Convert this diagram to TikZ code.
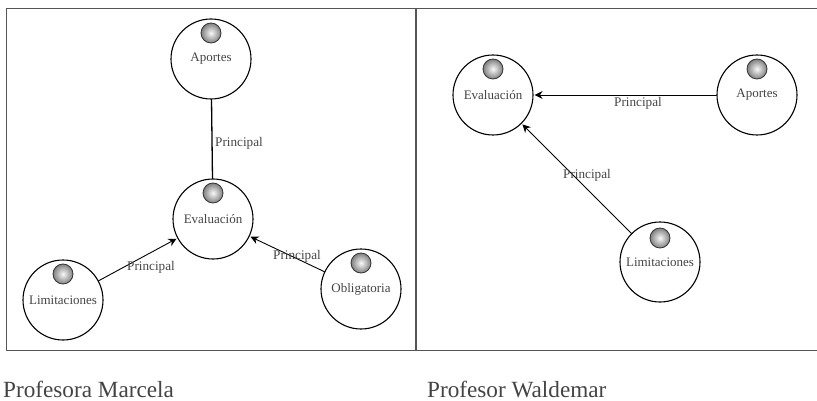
\documentclass[tikz,border=0pt]{standalone}
\usepackage{fontspec}
\setmainfont{Liberation Serif}
\usetikzlibrary{arrows.meta}
\definecolor{inkgray}{HTML}{444444}
\definecolor{framegray}{HTML}{555555}

\begin{document}
\begin{tikzpicture}[
  x=1pt, y=-1pt,
  every path/.style={line cap=round, line join=round},
  concept/.style={circle, draw=black, line width=1.1pt, fill=white, minimum size=80pt, inner sep=0pt, text=inkgray, font=\fontsize{13}{15}\selectfont},
  ball/.style={circle, draw=black!80, line width=0.8pt, minimum size=20pt, inner sep=0pt, inner color=gray!5, outer color=gray, shading=radial},
  relation/.style={text=inkgray, font=\fontsize{13.2}{15}\selectfont, inner sep=0pt},
  link/.style={draw=black, line width=0.9pt, -{Stealth[length=8pt,width=8pt]}, shorten >=1pt},
  caption/.style={text=inkgray, font=\fontsize{23.2}{25}\selectfont, anchor=base west, inner sep=0pt}
]
\useasboundingbox (0,0) rectangle (817,401);

% ---------------- Frames ----------------
\draw[framegray, line width=1.2pt] (817,8.5) -- (6.5,8.5) -- (6.5,350.5) -- (817,350.5);
\draw[framegray, line width=1.2pt] (416,8.5) -- (416,350.5);

% ---------------- Left panel ----------------
\node[concept] (aportesL) at (211,59) {Aportes};
\node[concept] (evalL) at (213,219) {Evaluación};
\node[concept] (limitL) at (63,300) {Limitaciones};
\node[concept] (obligL) at (361,289) {Obligatoria};

\node[ball] (aportesLball) at (211,33) {};
\node[ball] (evalLball) at (213,193) {};
\node[ball] (limitLball) at (63,274) {};
\node[ball] (obligLball) at (361,263) {};

\draw[black, line width=1.3pt] (aportesL) -- (evalL);
\draw[link] (limitL) -- (evalL);
\draw[link] (obligL) -- (evalL);

\node[relation] (relA) at (239,143) {Principal};
\node[relation] (relB) at (151,267) {Principal};
\node[relation] (relC) at (297,256) {Principal};

% ---------------- Right panel ----------------
\node[concept] (evalR) at (493,95) {Evaluación};
\node[concept] (aportesR) at (757,95) {Aportes};
\node[concept] (limitR) at (660,262) {Limitaciones};

\node[ball] (evalRball) at (493,69) {};
\node[ball] (aportesRball) at (757,69) {};
\node[ball] (limitRball) at (660,238) {};

\draw[link] (aportesR) -- (evalR);
\draw[link] (limitR) -- (evalR);

\node[relation] (relD) at (638,103) {Principal};
\node[relation] (relE) at (587,175) {Principal};

% ---------------- Captions ----------------
\node[caption] (capL) at (3,397) {Profesora Marcela};
\node[caption] (capR) at (427,397) {Profesor Waldemar};

\end{tikzpicture}
\end{document}
